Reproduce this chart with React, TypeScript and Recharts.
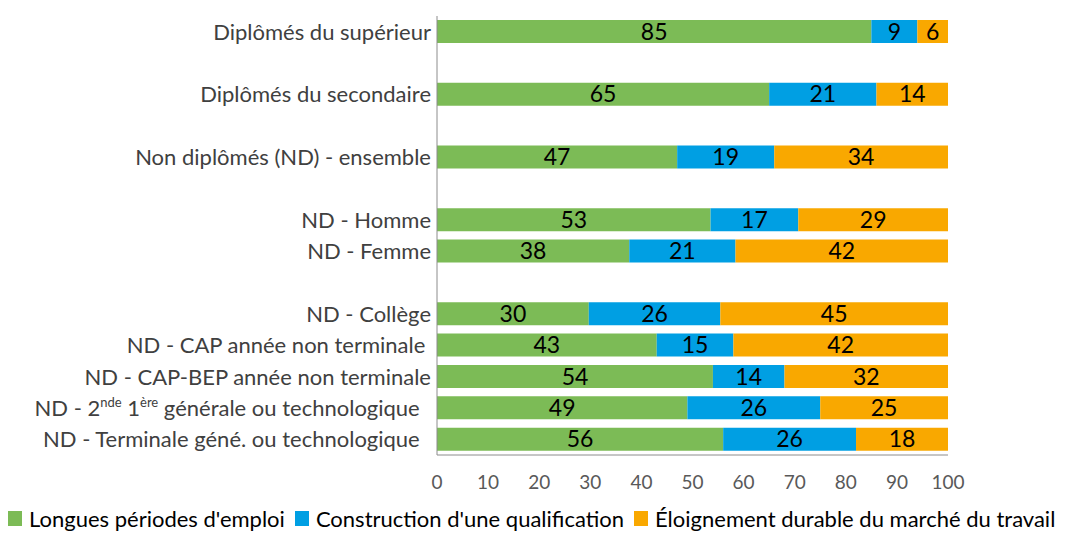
import { BarChart, Bar, XAxis, YAxis, LabelList } from "recharts";

const categories = [
  "Diplômés du supérieur",
  "",
  "Diplômés du secondaire",
  " ",
  "Non diplômés (ND) - ensemble",
  "  ",
  "ND - Homme",
  "ND - Femme",
  "   ",
  "ND - Collège",
  "ND - CAP année non terminale ",
  "ND - CAP-BEP année non terminale",
  "ND - 2nde 1ère générale ou technologique  ",
  "ND - Terminale géné. ou technologique  ",
];
const emploi = [85, null, 65, null, 47, null, 53, 38, null, 30, 43, 54, 49, 56];
const qualification = [9, null, 21, null, 19, null, 17, 21, null, 26, 15, 14, 26, 26];
const eloignement = [6, null, 14, null, 34, null, 29, 42, null, 45, 42, 32, 25, 18];
const xTicks = [0, 0.1, 0.2, 0.3, 0.4, 0.5, 0.6, 0.7, 0.8, 0.9, 1];

const series = [
  { key: "emploi", name: "Longues périodes d'emploi", color: "#7CBB56" },
  { key: "qualification", name: "Construction d'une qualification", color: "#009FE3" },
  { key: "eloignement", name: "Éloignement durable du marché du travail", color: "#F9A800" },
];

const data = categories.map((c, i) => ({
  cat: c,
  emploi: emploi[i],
  qualification: qualification[i],
  eloignement: eloignement[i],
}));

const FONT = "Lato, 'Open Sans', sans-serif";

const CatTick = ({ x, y, payload }: any) => {
  const v: string = payload.value;
  const sup = v.indexOf("2nde 1ère");
  return (
    <text x={x} y={y} dy={8} textAnchor="end" fill="#404040" fontSize={22} fontFamily={FONT} style={{ whiteSpace: "pre" }}>
      {sup >= 0 ? (
        <>
          <tspan>ND - 2</tspan>
          <tspan fontSize={13} dy={-9}>nde</tspan>
          <tspan dy={9}> 1</tspan>
          <tspan fontSize={13} dy={-9}>ère</tspan>
          <tspan dy={9}>{v.slice(sup + 9)}</tspan>
        </>
      ) : (
        v
      )}
    </text>
  );
};

const ChartLegend = () => (
  <div
    style={{
      position: "absolute",
      left: 8,
      top: 505,
      display: "flex",
      fontFamily: FONT,
      fontSize: 22,
      color: "#000",
      whiteSpace: "nowrap",
    }}
  >
    {series.map((s) => (
      <div key={s.key} style={{ display: "flex", alignItems: "center", marginRight: 10 }}>
        <span style={{ display: "inline-block", width: 14, height: 15, background: s.color, marginRight: 7 }} />
        <span>{s.name}</span>
      </div>
    ))}
  </div>
);

export default function App() {
  return (
    <div style={{ position: "absolute", left: 0, top: 0, width: 1067, height: 534, background: "#fff" }}>
      <BarChart
        width={1067}
        height={534}
        data={data}
        layout="vertical"
        stackOffset="expand"
        margin={{ top: 16, right: 119, bottom: 49, left: 0 }}
      >
        <XAxis
          type="number"
          domain={[0, 1]}
          ticks={xTicks}
          tickFormatter={(v: number) => String(Math.round(v * 100))}
          tick={{ fill: "#595959", fontSize: 19, fontFamily: FONT }}
          tickLine={false}
          tickMargin={15}
          axisLine={{ stroke: "#8C8C8C" }}
          height={30}
        />
        <YAxis
          type="category"
          dataKey="cat"
          width={437}
          tick={<CatTick />}
          tickLine={false}
          axisLine={{ stroke: "#8C8C8C" }}
          interval={0}
          tickMargin={0}
        />
        {series.map((s) => (
          <Bar key={s.key} dataKey={s.key} name={s.name} stackId="a" fill={s.color} barSize={23} isAnimationActive={false}>
            <LabelList
              dataKey={s.key}
              position="center"
              fill="#000"
              fontSize={23}
              fontFamily={FONT}
              formatter={(v: any) => (v == null ? "" : v)}
            />
          </Bar>
        ))}
      </BarChart>
      <ChartLegend />
    </div>
  );
}
